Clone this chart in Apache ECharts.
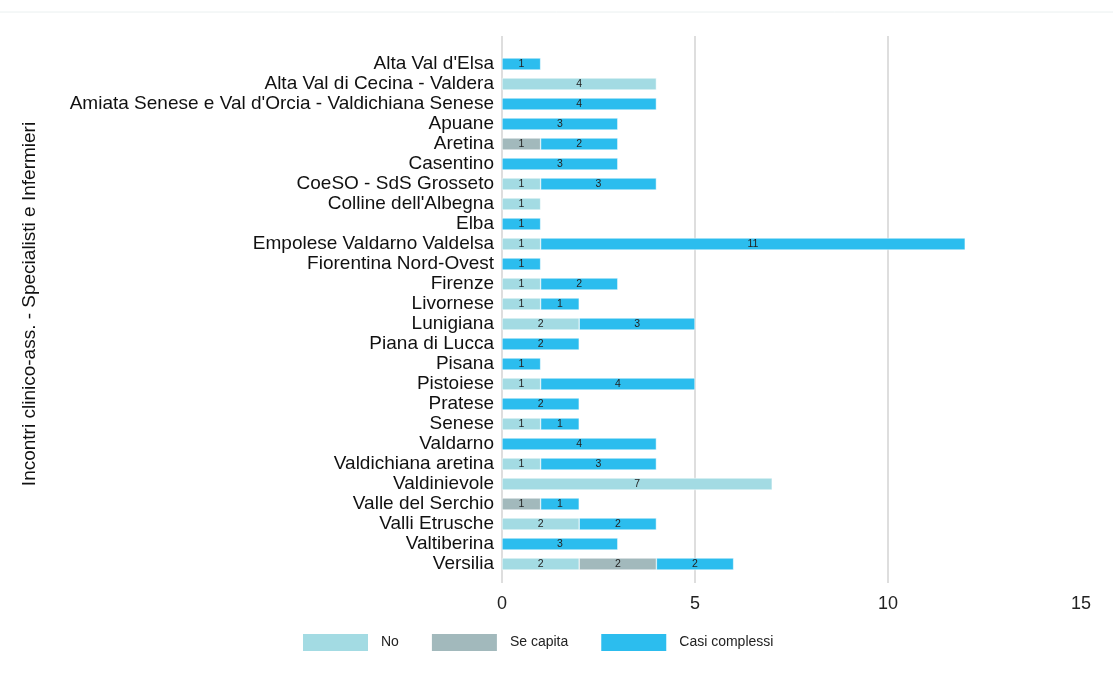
<!DOCTYPE html>
<html><head><meta charset="utf-8">
<script src="https://cdn.jsdelivr.net/npm/echarts@6/dist/echarts.min.js"></script>
<style>html,body{margin:0;padding:0;background:#fff}#c{width:1113px;height:684px}</style>
</head><body><div id="c"></div>
<script>
const categories = ["Alta Val d'Elsa","Alta Val di Cecina - Valdera","Amiata Senese e Val d'Orcia - Valdichiana Senese","Apuane","Aretina","Casentino","CoeSO - SdS Grosseto","Colline dell'Albegna","Elba","Empolese Valdarno Valdelsa","Fiorentina Nord-Ovest","Firenze","Livornese","Lunigiana","Piana di Lucca","Pisana","Pistoiese","Pratese","Senese","Valdarno","Valdichiana aretina","Valdinievole","Valle del Serchio","Valli Etrusche","Valtiberina","Versilia"];
const noValues =        [0,4,0,0,0,0,1,1,0,1,0,1,1,2,0,0,1,0,1,0,1,7,0,2,0,2];
const seCapitaValues =  [0,0,0,0,1,0,0,0,0,0,0,0,0,0,0,0,0,0,0,0,0,0,1,0,0,2];
const casiValues =      [1,0,4,3,2,3,3,0,1,11,1,2,1,3,2,1,4,2,1,4,3,0,1,2,3,2];
const xTicks = {min:0, max:15, interval:5};
const seriesNames = ['No','Se capita','Casi complessi'];
const colors = ['#A3DBE3','#A2B9BC','#2CBDEE'];
const FONT = '"Liberation Sans", Arial, sans-serif';

const chart = echarts.init(document.getElementById('c'), null, {renderer:'canvas'});
const mk = (name, vals, color) => ({
  name, type:'bar', stack:'s', xAxisIndex:1, yAxisIndex:1,
  barWidth:12,
  data: vals.map(v => v === 0 ? null : v),
  itemStyle:{color, borderColor:'#fff', borderWidth:0.5},
  label:{show:true, position:'inside', color:'#222', fontSize:10.5, fontFamily:FONT},
  emphasis:{disabled:true}
});
chart.setOption({
  animation:false,
  textStyle:{fontFamily:FONT},
  legend:{
    data:seriesNames, bottom:26, left:296,
    itemWidth:67, itemHeight:19, itemGap:31,
    icon:'rect',
    textStyle:{fontSize:14, color:'#222', fontFamily:FONT, padding:[0,0,0,7]}
  },
  grid:[
    {left:502, right:32, top:36, height:547},
    {left:502, right:32, top:54, height:520}
  ],
  xAxis:[
    {type:'value', gridIndex:0, min:xTicks.min, max:xTicks.max, interval:xTicks.interval,
     axisLine:{show:false}, axisTick:{show:false},
     axisLabel:{fontSize:18, color:'#222', margin:12, fontFamily:FONT},
     splitLine:{show:true, showMaxLine:false, lineStyle:{color:'#DEDEDE', width:2}}},
    {type:'value', gridIndex:1, min:xTicks.min, max:xTicks.max, interval:xTicks.interval,
     show:false, splitLine:{show:false}}
  ],
  yAxis:[
    {type:'category', gridIndex:0, data:[], show:false},
    {type:'category', gridIndex:1, data:categories, inverse:true,
     axisLine:{show:false}, axisTick:{show:false},
     axisLabel:{fontSize:19, color:'#111', margin:8, interval:0, fontFamily:FONT}}
  ],
  series:[
    mk(seriesNames[0], noValues, colors[0]),
    mk(seriesNames[1], seCapitaValues, colors[1]),
    mk(seriesNames[2], casiValues, colors[2])
  ],
  graphic:[
    {type:'line', shape:{x1:0,y1:12,x2:1113,y2:12}, style:{stroke:'#EAF0F0', lineWidth:1}},
    {type:'text', x:30, y:304, rotation:Math.PI/2, style:{text:'Incontri clinico-ass. - Specialisti e Infermieri', fill:'#111', font:'19px '+FONT, align:'center', verticalAlign:'middle'}}
  ]
});
</script></body></html>
